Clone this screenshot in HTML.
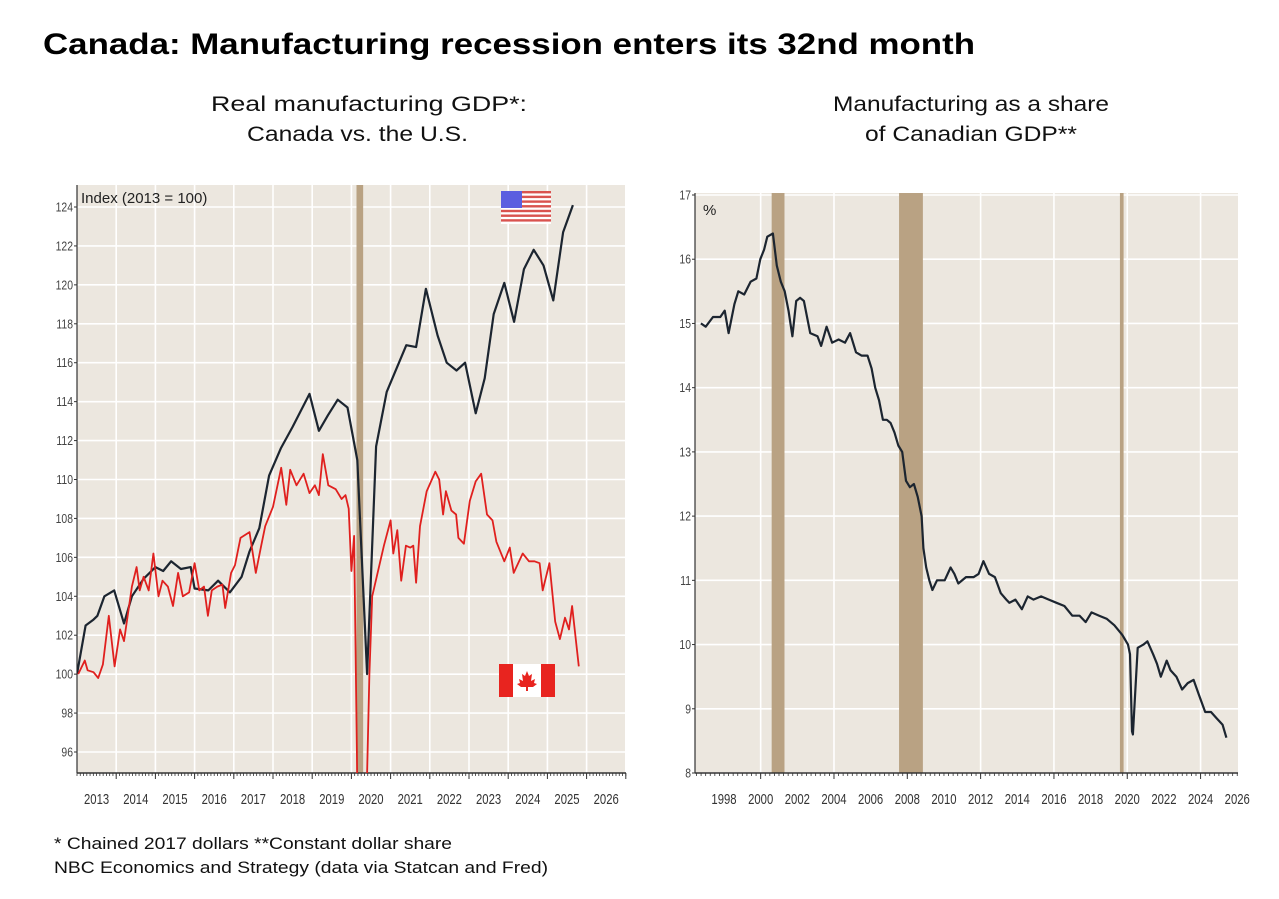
<!DOCTYPE html>
<html><head><meta charset="utf-8">
<style>
html,body{margin:0;padding:0;background:#fff;}
body{width:1279px;height:899px;overflow:hidden;font-family:"Liberation Sans",Arial,sans-serif;}
svg{display:block;}
svg text{font-family:"Liberation Sans",Arial,sans-serif;}
</style></head>
<body>
<svg id="chart" width="1279" height="899" xmlns="http://www.w3.org/2000/svg">
<rect width="1279" height="899" fill="#fff"/>
<text x="43" y="54" font-size="30" font-weight="bold" fill="#000" textLength="932" lengthAdjust="spacingAndGlyphs">Canada: Manufacturing recession enters its 32nd month</text>
<text x="211" y="111" font-size="21" fill="#111" textLength="316" lengthAdjust="spacingAndGlyphs">Real manufacturing GDP*:</text>
<text x="247" y="141" font-size="21" fill="#111" textLength="221" lengthAdjust="spacingAndGlyphs">Canada vs. the U.S.</text>
<text x="833" y="111" font-size="21" fill="#111" textLength="276" lengthAdjust="spacingAndGlyphs">Manufacturing as a share</text>
<text x="865" y="141" font-size="21" fill="#111" textLength="212" lengthAdjust="spacingAndGlyphs">of Canadian GDP**</text>
<text x="54" y="849" font-size="17" fill="#111" textLength="398" lengthAdjust="spacingAndGlyphs">* Chained 2017 dollars **Constant dollar share</text>
<text x="54" y="873" font-size="17" fill="#111" textLength="494" lengthAdjust="spacingAndGlyphs">NBC Economics and Strategy (data via Statcan and Fred)</text>
<g id="left"></g>
<g id="right"></g>
<defs>
<clipPath id="clipL"><rect x="77" y="185" width="549" height="588"/></clipPath>
<clipPath id="clipR"><rect x="695" y="193" width="543" height="580"/></clipPath>
</defs>
</svg>
<script>
// ---- Left chart data ----
const usTimes = [2013.0,2013.22,2013.42,2013.52,2013.7,2013.95,2014.2,2014.4,2014.7,2015.0,2015.2,2015.4,2015.65,2015.9,2016.0,2016.35,2016.6,2016.9,2017.2,2017.4,2017.65,2017.9,2018.2,2018.5,2018.93,2019.17,2019.4,2019.65,2019.9,2020.15,2020.4,2020.63,2020.9,2021.4,2021.65,2021.9,2022.2,2022.43,2022.68,2022.9,2023.17,2023.4,2023.63,2023.9,2024.15,2024.4,2024.65,2024.9,2025.15,2025.4,2025.65];
const usValues = [100,102.5,102.8,103.0,104.0,104.3,102.6,104.0,104.9,105.5,105.3,105.8,105.4,105.5,104.4,104.3,104.8,104.2,105.0,106.3,107.5,110.2,111.6,112.7,114.4,112.5,113.3,114.1,113.7,111.0,100.0,111.7,114.5,116.9,116.8,119.8,117.4,116.0,115.6,116.0,113.4,115.2,118.5,120.1,118.1,120.8,121.8,121.0,119.2,122.7,124.1];
const caTimes = [2013.03,2013.2,2013.27,2013.42,2013.54,2013.66,2013.81,2013.96,2014.1,2014.2,2014.4,2014.52,2014.6,2014.7,2014.83,2014.95,2015.08,2015.18,2015.32,2015.45,2015.58,2015.7,2015.86,2016.0,2016.12,2016.24,2016.34,2016.44,2016.58,2016.71,2016.78,2016.93,2017.03,2017.17,2017.4,2017.56,2017.7,2017.8,2018.0,2018.21,2018.34,2018.44,2018.6,2018.78,2018.93,2019.07,2019.17,2019.27,2019.41,2019.6,2019.75,2019.85,2019.93,2020.0,2020.07,2020.14,2020.2,2020.3,2020.39,2020.46,2020.53,2020.83,2021.0,2021.07,2021.17,2021.27,2021.39,2021.5,2021.58,2021.65,2021.75,2021.92,2022.14,2022.24,2022.34,2022.41,2022.55,2022.67,2022.73,2022.87,2023.02,2023.17,2023.31,2023.46,2023.6,2023.7,2023.9,2024.04,2024.14,2024.37,2024.53,2024.67,2024.8,2024.88,2025.05,2025.2,2025.32,2025.45,2025.55,2025.63,2025.8];
const caValues = [100.0,100.7,100.2,100.1,99.8,100.5,103.0,100.4,102.3,101.7,104.5,105.5,104.3,105.0,104.3,106.2,104.0,104.8,104.5,103.5,105.2,104.0,104.2,105.7,104.3,104.5,103.0,104.3,104.5,104.6,103.4,105.2,105.6,107.0,107.3,105.2,106.6,107.6,108.6,110.6,108.7,110.5,109.7,110.3,109.3,109.7,109.2,111.3,109.7,109.5,109.0,109.2,108.5,105.3,107.1,96.0,84.0,84.0,94.0,100.0,104.0,106.6,107.9,106.2,107.4,104.8,106.6,106.5,106.6,104.7,107.6,109.4,110.4,110.0,108.2,109.4,108.4,108.2,107.0,106.7,108.9,109.9,110.3,108.2,107.9,106.8,105.8,106.5,105.2,106.2,105.8,105.8,105.7,104.3,105.7,102.7,101.8,102.9,102.3,103.5,100.4];
const leftYTicks = [96,98,100,102,104,106,108,110,112,114,116,118,120,122,124];
const leftYears = [2013,2014,2015,2016,2017,2018,2019,2020,2021,2022,2023,2024,2025,2026];
const leftRecessions = [[2020.13,2020.3]];
// ---- Right chart data ----
const shTimes = [1996.74,1997.0,1997.4,1997.8,1998.04,1998.25,1998.57,1998.78,1999.1,1999.45,1999.77,1999.98,2000.19,2000.36,2000.67,2000.88,2001.1,2001.31,2001.52,2001.73,2001.94,2002.15,2002.36,2002.7,2003.1,2003.3,2003.6,2003.9,2004.25,2004.6,2004.88,2005.2,2005.5,2005.83,2006.05,2006.25,2006.46,2006.67,2006.88,2007.09,2007.3,2007.51,2007.72,2007.93,2008.14,2008.36,2008.57,2008.78,2008.88,2009.03,2009.2,2009.37,2009.62,2010.04,2010.36,2010.57,2010.78,2011.2,2011.62,2011.89,2012.15,2012.46,2012.78,2013.1,2013.4,2013.57,2013.9,2014.25,2014.57,2014.88,2015.3,2015.72,2016.14,2016.57,2017.0,2017.4,2017.73,2018.05,2018.47,2018.89,2019.3,2019.73,2020.04,2020.15,2020.26,2020.31,2020.57,2020.88,2021.1,2021.41,2021.62,2021.83,2022.15,2022.36,2022.68,2022.99,2023.3,2023.62,2023.93,2024.25,2024.57,2024.88,2025.2,2025.41];
const shValues = [15.0,14.95,15.1,15.1,15.2,14.85,15.3,15.5,15.45,15.65,15.7,16.0,16.15,16.35,16.4,15.9,15.65,15.5,15.2,14.8,15.35,15.4,15.35,14.85,14.8,14.65,14.95,14.7,14.75,14.7,14.85,14.55,14.5,14.5,14.3,14.0,13.8,13.5,13.5,13.45,13.3,13.1,13.0,12.55,12.45,12.5,12.3,12.0,11.5,11.2,11.0,10.85,11.0,11.0,11.2,11.1,10.95,11.05,11.05,11.1,11.3,11.1,11.05,10.8,10.7,10.65,10.7,10.55,10.75,10.7,10.75,10.7,10.65,10.6,10.45,10.45,10.35,10.5,10.45,10.4,10.3,10.15,10.0,9.85,8.65,8.6,9.95,10.0,10.05,9.85,9.7,9.5,9.75,9.6,9.5,9.3,9.4,9.45,9.2,8.95,8.95,8.85,8.75,8.55,8.6,8.4];
const rightYTicks = [8,9,10,11,12,13,14,15,16,17];
const rightYears = [1998,2000,2002,2004,2006,2008,2010,2012,2014,2016,2018,2020,2022,2024,2026];
const rightRecessions = [[2000.6,2001.3],[2007.55,2008.85],[2019.6,2019.8]];

const NS = "http://www.w3.org/2000/svg";
function mk(tag, attrs, parent){const e=document.createElementNS(NS,tag);for(const k in attrs)e.setAttribute(k,attrs[k]);parent.appendChild(e);return e;}

const Lx = t => 77 + (t-2013)*39.2;
const Ly = v => 207 + (124-v)*(545/28);
const Rx = t => 724 + (t-1998)*18.33;
const Ry = v => 195 + (17-v)*(578/9);

function drawChart(g, box, xs, ys, yTicks, years, yearLabelOffset, recessions, minorStep, minorStart, gridYears){
  const [x0,y0,x1,y1]=box;
  const bg = mk('rect',{x:x0,y:y0,width:x1-x0,height:y1-y0,fill:'#ece7df'},g);
  
  
  yTicks.forEach(v=>{
    const l=mk('line',{x1:x0,x2:x1,y1:ys(v),y2:ys(v),stroke:'#fff','stroke-width':1.6},g);
    
    
  });
  gridYears.forEach(t=>{
    const l=mk('line',{x1:xs(t),x2:xs(t),y1:y0,y2:y1,stroke:'#fff','stroke-width':1.6},g);
    
    
  });
  recessions.forEach(r=>{
    const b=mk('rect',{x:xs(r[0]),y:y0,width:Math.max(3,xs(r[1])-xs(r[0])),height:y1-y0,fill:'#b9a283'},g);
    
    
  });
  mk('line',{x1:x0,x2:x0,y1:y0,y2:y1,stroke:'#333','stroke-width':1.2},g);
  const xa=mk('line',{x1:x0,x2:x1,y1:y1,y2:y1,stroke:'#333','stroke-width':1.5},g);
  
  
  yTicks.forEach(v=>{
    mk('line',{x1:x0-3,x2:x0,y1:ys(v),y2:ys(v),stroke:'#333'},g);
    const t=mk('text',{x:x0-4,y:ys(v)+4.5,'font-size':13,'text-anchor':'end',fill:'#444',transform:`translate(${x0-4},0) scale(0.8,1) translate(${-(x0-4)},0)`},g);
    t.textContent=v;
    
    
  });
  for(let t=minorStart; xs(t)<=x1+0.5; t+=minorStep){
    mk('line',{x1:xs(t),x2:xs(t),y1:y1,y2:y1+3,stroke:'#333','stroke-width':0.8},g);
  }
  years.forEach(yv=>{
    const px = xs(yv+yearLabelOffset);
    const t=mk('text',{x:px,y:y1+31,'font-size':14.5,'text-anchor':'middle',fill:'#333',transform:`translate(${px},0) scale(0.78,1) translate(${-px},0)`},g);
    t.textContent=yv;
    
    
  });
  gridYears.forEach(t=>mk('line',{x1:xs(t),x2:xs(t),y1:y1,y2:y1+6,stroke:'#333','stroke-width':1},g));
}

const L=document.getElementById('left');
drawChart(L,[77,185,626,773],Lx,Ly,leftYTicks,leftYears,0.5,leftRecessions,1/12,2013,[2014,2015,2016,2017,2018,2019,2020,2021,2022,2023,2024,2025,2026,2027]);
const R=document.getElementById('right');
drawChart(R,[695,193,1238,773],Rx,Ry,rightYTicks,rightYears,0,rightRecessions,0.25,1996.5,[2000,2004,2008,2012,2016,2020,2024]);

function linePath(ts,vs,xs,ys){return ts.map((t,i)=>(i?'L':'M')+xs(t).toFixed(1)+','+ys(vs[i]).toFixed(1)).join('');}
const lg=mk('g',{'clip-path':'url(#clipL)'},L);
const usLine=mk('path',{d:linePath(usTimes,usValues,Lx,Ly),fill:'none',stroke:'#1c2530','stroke-width':2.2,'stroke-linejoin':'round'},lg);


const caLine=mk('path',{d:linePath(caTimes,caValues,Lx,Ly),fill:'none',stroke:'#e0201e','stroke-width':1.8,'stroke-linejoin':'round'},lg);


const rg=mk('g',{'clip-path':'url(#clipR)'},R);
const shLine=mk('path',{d:linePath(shTimes,shValues,Rx,Ry),fill:'none',stroke:'#1c2530','stroke-width':2.2,'stroke-linejoin':'round'},rg);



const il=mk('text',{x:81,y:203,'font-size':15,fill:'#222'},L);
il.textContent='Index (2013 = 100)';


const pl=mk('text',{x:703,y:215,'font-size':15,fill:'#222'},R);
pl.textContent='%';



const uf=mk('g',{},L);


mk('rect',{x:501,y:191,width:50,height:33,fill:'#fff'},uf);
for(let i=0;i<7;i++) mk('rect',{x:501,y:191+i*4.7,width:50,height:2.4,fill:'#d9534f'},uf);
mk('rect',{x:501,y:191,width:21,height:17,fill:'#5b5ee0'},uf);
const cf=mk('g',{},L);


mk('rect',{x:499,y:664,width:56,height:33,fill:'#fff'},cf);
mk('rect',{x:499,y:664,width:14,height:33,fill:'#e8241f'},cf);
mk('rect',{x:541,y:664,width:14,height:33,fill:'#e8241f'},cf);
mk('path',{d:'M527,671 L529,676 L532,674 L531,681 L535,679 L534,683 L537,684 L533,687 L528,687 L528,691 L526,691 L526,687 L521,687 L517,684 L520,683 L519,679 L523,681 L522,674 L525,676 Z',fill:'#e8241f'},cf);
</script>
</body></html>
